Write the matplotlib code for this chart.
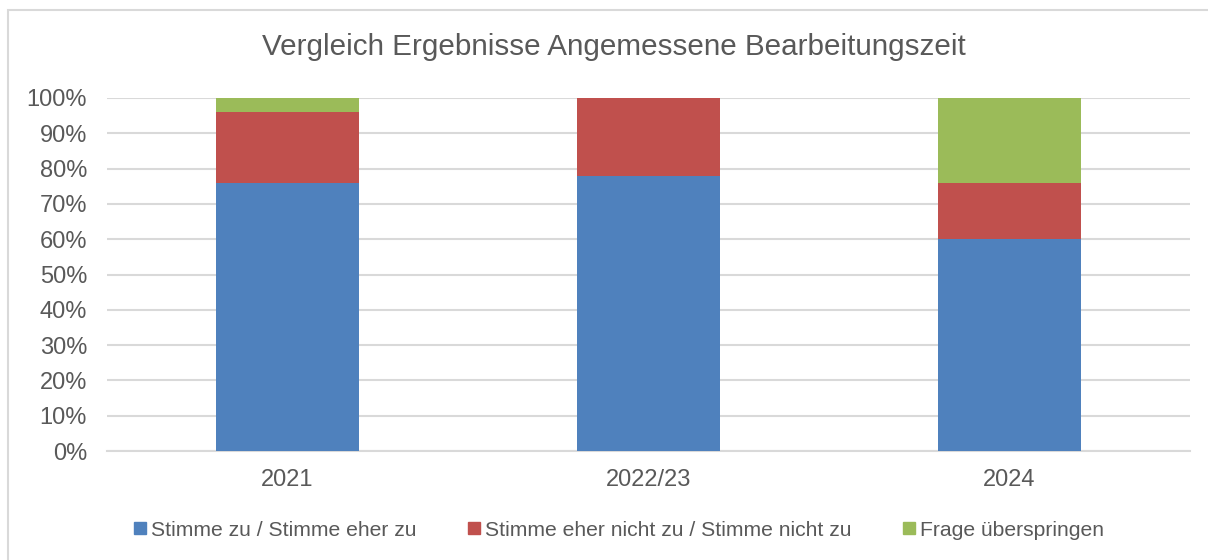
import matplotlib
matplotlib.use("Agg")
import matplotlib.pyplot as plt
from matplotlib.patches import Rectangle
import numpy as np

categories = ["2021", "2022/23", "2024"]
zustimmung = [76, 78, 60]
ablehnung = [20, 22, 16]
uebersprungen = [4, 0, 24]
series_names = ["Stimme zu / Stimme eher zu",
                "Stimme eher nicht zu / Stimme nicht zu",
                "Frage überspringen"]
colors = ["#4F81BD", "#C0504D", "#9BBB59"]
title = "Vergleich Ergebnisse Angemessene Bearbeitungszeit"

plt.rcParams['font.family'] = ['Liberation Sans', 'DejaVu Sans']
text_color = "#595959"

fig = plt.figure(figsize=(12.08, 5.6), dpi=100)
fig.patches.append(Rectangle((8/1208, -0.1), 1.2, 1.1 - 10/560, transform=fig.transFigure,
                             fill=False, edgecolor="#d9d9d9", linewidth=1.5))
ax = fig.add_axes([107/1208, 1 - 451/560, (1190 - 107)/1208, (451 - 98)/560])

x = np.arange(len(categories))
width = 0.396
bottom = np.zeros(len(categories))
for vals, name, c in zip([zustimmung, ablehnung, uebersprungen], series_names, colors):
    ax.bar(x, vals, width, bottom=bottom, color=c, label=name, zorder=3)
    bottom += np.array(vals)

ax.set_xlim(-0.5, len(categories) - 0.5)
ax.set_ylim(0, 100)
ax.set_yticks(np.arange(0, 101, 10))
ax.set_yticklabels([f"{v}%" for v in range(0, 101, 10)])
ax.set_xticks(x)
ax.set_xticklabels(categories)
ax.grid(axis='y', color="#d9d9d9", linewidth=1.5, zorder=0)
for s in ["top", "right", "left"]:
    ax.spines[s].set_visible(False)
ax.spines["bottom"].set_color("#d9d9d9")
ax.spines["bottom"].set_linewidth(1.5)
ax.tick_params(axis='both', length=0, labelsize=17, colors=text_color)
ax.tick_params(axis='y', pad=14.4)
ax.tick_params(axis='x', pad=13)

fig.text(0.5 * (262 + 965) / 1208, 1 - 47/560, title, ha='center', va='center',
         fontsize=21.3, color=text_color)

handles = [Rectangle((0, 0), 1, 1, color=c) for c in colors]
leg = fig.legend(handles, series_names, loc='center', bbox_to_anchor=(619/1208, 1 - 530/560),
                 ncol=3, frameon=False, fontsize=15.2, handlelength=0.55, handleheight=0.55,
                 handletextpad=0.25, columnspacing=2.45, labelcolor=text_color)

fig.savefig("out.png", dpi=100)
